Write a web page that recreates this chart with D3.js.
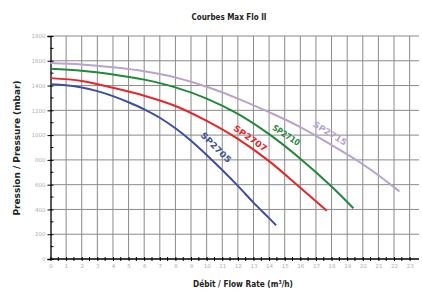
<!DOCTYPE html>
<html>
<head>
<meta charset="utf-8">
<script src="https://cdn.jsdelivr.net/npm/d3@7"></script>
<style>
  body { margin: 0; background: #fff; }
</style>
</head>
<body>
<div id="chart"></div>
<script>
// flow values (m3/h) and pressure (mbar)
var sp2705X = [0, 1, 2, 3, 4, 5, 6, 7, 8, 9, 10, 11, 12, 13, 14, 14.45];
var sp2705Y = [1410, 1402, 1385, 1355, 1315, 1265, 1208, 1140, 1055, 955, 840, 718, 590, 455, 330, 272];

var sp2707X = [0, 2, 4, 6, 8, 10, 12, 14, 16, 17.7];
var sp2707Y = [1460, 1437, 1382, 1318, 1235, 1115, 970, 790, 575, 390];

var sp2710X = [0, 2, 4, 6, 8, 10, 12, 14, 16, 18, 19.4];
var sp2710Y = [1535, 1520, 1490, 1448, 1385, 1295, 1172, 1008, 810, 585, 410];

var sp2715X = [0, 2, 4, 6, 8, 10, 12, 14, 16, 18, 20, 22, 22.35];
var sp2715Y = [1582, 1570, 1547, 1515, 1465, 1390, 1295, 1185, 1065, 920, 765, 580, 545];

var seriesNames = ["SP2705", "SP2707", "SP2710", "SP2715"];
var seriesColors = ["#3d4f9e", "#e5262a", "#21893b", "#b9a2cc"];
var xTicks = d3.range(0, 24);
var yTicks = [0, 200, 400, 600, 800, 1000, 1200, 1400, 1600, 1800];

var series = [
  { name: seriesNames[0], color: seriesColors[0], xs: sp2705X, ys: sp2705Y, lx: 10.6, ly: 900, ang: 45, len: 39 },
  { name: seriesNames[1], color: seriesColors[1], xs: sp2707X, ys: sp2707Y, lx: 12.8, ly: 975, ang: 35, len: 39 },
  { name: seriesNames[2], color: seriesColors[2], xs: sp2710X, ys: sp2710Y, lx: 15.1, ly: 1000, ang: 33, len: 31 },
  { name: seriesNames[3], color: seriesColors[3], xs: sp2715X, ys: sp2715Y, lx: 17.9, ly: 1015, ang: 32, len: 38 }
];

var svg = d3.select("#chart").append("svg")
    .attr("width", 422)
    .attr("height", 291);

var x = d3.scaleLinear().domain([0, 23.6]).range([50.5, 419]);
var y = d3.scaleLinear().domain([0, 1800]).range([259, 36]);

// grid
svg.append("g").selectAll("line.v")
    .data(xTicks.slice(1))
    .join("line")
    .attr("x1", d => x(d)).attr("x2", d => x(d))
    .attr("y1", y(1800)).attr("y2", y(0))
    .attr("stroke", "#8a8a8a")
    .attr("stroke-width", 1);

svg.append("g").selectAll("line.h")
    .data(yTicks.slice(1))
    .join("line")
    .attr("x1", x(0)).attr("x2", x(23.6))
    .attr("y1", d => y(d)).attr("y2", d => y(d))
    .attr("stroke", "#8a8a8a")
    .attr("stroke-width", 1);

// axes
var yAxis = d3.axisLeft(y)
    .tickValues(yTicks)
    .tickSize(3)
    .tickFormat(d3.format("d"));
var gy = svg.append("g").attr("transform", "translate(" + x(0) + ",0)").call(yAxis);
gy.select(".domain").attr("stroke", "#000").attr("stroke-width", 1.3);
gy.selectAll(".tick line").attr("stroke", "#000").attr("x2", -3).attr("x1", 3);
gy.selectAll(".tick text")
    .attr("fill", "#b0b0b0")
    .attr("font-family", "DejaVu Sans")
    .attr("font-size", 5.5)
    .attr("x", -5);

// minor ticks on y
svg.append("g").selectAll("line")
    .data(d3.range(100, 1800, 200))
    .join("line")
    .attr("x1", x(0)).attr("x2", x(0) + 3)
    .attr("y1", d => y(d)).attr("y2", d => y(d))
    .attr("stroke", "#000");

var xAxis = d3.axisBottom(x)
    .tickValues(xTicks)
    .tickSize(3)
    .tickFormat(d3.format("d"));
var gx = svg.append("g").attr("transform", "translate(0," + y(0) + ")").call(xAxis);
gx.select(".domain").attr("stroke", "#000").attr("stroke-width", 1.3).attr("d", "M" + x(0) + ",0H" + x(23.6));
gx.selectAll(".tick line").attr("stroke", "#000").attr("y1", -2).attr("y2", 2);
gx.selectAll(".tick text")
    .attr("fill", "#b0b0b0")
    .attr("font-family", "DejaVu Sans")
    .attr("font-size", 5.5)
    .attr("y", 5);

// minor ticks on x
svg.append("g").selectAll("line")
    .data(d3.range(0.5, 23.5, 1))
    .join("line")
    .attr("x1", d => x(d)).attr("x2", d => x(d))
    .attr("y1", y(0) - 2).attr("y2", y(0) + 2)
    .attr("stroke", "#000");

// curves
var line = d3.line()
    .x(d => x(d[0]))
    .y(d => y(d[1]))
    .curve(d3.curveMonotoneX);

series.forEach(function (s) {
  svg.append("path")
      .datum(d3.zip(s.xs, s.ys))
      .attr("fill", "none")
      .attr("stroke", s.color)
      .attr("stroke-width", 2)
      .attr("d", line);

  svg.append("text")
      .attr("transform", "translate(" + x(s.lx) + "," + y(s.ly) + ") rotate(" + s.ang + ")")
      .attr("text-anchor", "middle")
      .attr("dy", "0.35em")
      .attr("font-family", "DejaVu Sans Condensed")
      .attr("font-weight", "bold")
      .attr("font-size", 8.5)
      .attr("fill", s.color)
      .attr("textLength", s.len)
      .attr("lengthAdjust", "spacingAndGlyphs")
      .text(s.name);
});

// titles
svg.append("text")
    .attr("x", 229)
    .attr("y", 20)
    .attr("text-anchor", "middle")
    .attr("font-family", "DejaVu Sans Condensed")
    .attr("font-weight", "bold")
    .attr("font-size", 9.5)
    .attr("fill", "#222")
    .attr("textLength", 75)
    .attr("lengthAdjust", "spacingAndGlyphs")
    .text("Courbes Max Flo II");

svg.append("text")
    .attr("x", 243)
    .attr("y", 287)
    .attr("text-anchor", "middle")
    .attr("font-family", "DejaVu Sans Condensed")
    .attr("font-weight", "bold")
    .attr("font-size", 9.5)
    .attr("fill", "#222")
    .attr("textLength", 100)
    .attr("lengthAdjust", "spacingAndGlyphs")
    .text("Débit / Flow Rate (m³/h)");

svg.append("text")
    .attr("transform", "translate(20,148) rotate(-90)")
    .attr("text-anchor", "middle")
    .attr("font-family", "DejaVu Sans Condensed")
    .attr("font-weight", "bold")
    .attr("font-size", 9.5)
    .attr("fill", "#222")
    .attr("textLength", 135)
    .attr("lengthAdjust", "spacingAndGlyphs")
    .text("Pression / Pressure (mbar)");
</script>
</body>
</html>
